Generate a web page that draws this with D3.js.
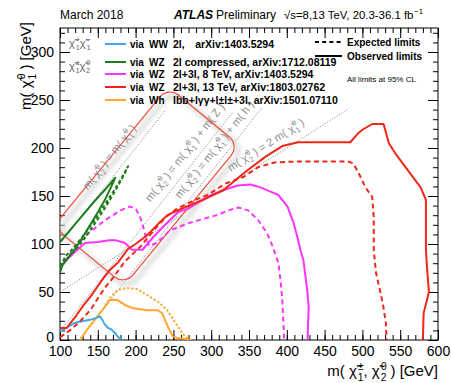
<!DOCTYPE html>
<html>
<head>
<meta charset="utf-8">
<script src="https://cdn.jsdelivr.net/npm/d3@7"></script>
<style>
	body { margin: 0; background: #fff; }
	svg { font-family: "Liberation Sans", Arial, Helvetica, sans-serif; }
</style>
</head>
<body>
<div id="chart"></div>
<script>

///////////////////////////////////////////////////////////////////////////
///////////////////////////////// Data ////////////////////////////////////
///////////////////////////////////////////////////////////////////////////

//Exclusion contours, [m(chi1+-,chi2), m(chi1)] in GeV
var wwObs = [[100,8.7],[106,11.5],[113,15],[120,18],[129,19.5],[140,21],[148,23],[153,24.5],[156,21],[159,16.5],
	[163,13],[168,11],[172,8],[176,4],[180.5,0]];
var whObs = [[126.5,0],[136,11],[146,21],[156,31],[166,41.7],[175,42],[186,36.5],[197,33],[215,31],[229,31],
	[235,28],[243,13.5],[249,4],[256,2],[268,1],[271,0]];
var whExp = [[160,36],[166,43.7],[173,50],[181,53],[189,54],[202,53],[215,47],[230,39.6],[242,31],[250,21],
	[259,10.4],[266,3],[274,0]];
var wzCompObs = [[100,102],[115,116],[130,130],[145,144],[160,157],[173,169],[168,160],[160,147],[150,133],
	[140,120],[130,107],[120,95],[110,85],[103,78],[100,70]];
var wzCompExp = [[100,77],[108,88],[118,96],[130,108],[145,124],[160,142],[175,160],[183,171],[190,181],
	[186,174],[175,158],[160,138],[145,120],[130,103],[118,92],[106,82],[100,74]];
var wz8Obs = [[100,73],[103,78],[112,86],[120,92],[133,101],[150,102],[165,104],[173,104],[186,101],[195,94],
	[209,94],[222,106],[239,120],[256,133],[270,137],[286,145],[300,151],[316,156],[335,161],[352,162],[365,159],
	[380,154],[389,151],[401,139],[409,122],[414,107],[418,94],[422,83],[427,52],[429,34],[428,15],[427.5,0]];
var wz8Exp = [[100,74],[110,86],[120,97],[137,111],[160,125],[180,135],[192,139],[200,137],[206,128],[210,118],
	[214,106],[218,98],[225,100],[235,106],[245,114],[271,122],[307,130],[323,135],[336,138],[349,135],[362,125],
	[374,111],[381,98],[389,80],[392,60],[394,42],[396,10],[396.5,0]];
var wz13Obs = [[100,12.5],[109,12.5],[115,19],[122,26],[131,36],[140,45],[150,56],[157,64],[166,73],[177,81],
	[190,95],[200,100],[210,106],[219,112],[230,121],[242,130],[263,137.5],[289,146],[316,156],[345,175],[372,191],
	[394,202],[415,206],[484,206],[494,215],[500,219],[513,225],[528,225],[535,205],[543,195],[557,180],[577,159],
	[584,146],[584,94],[586,70],[588,50],[581,28],[580,0]];
var wz13Exp = [[100,3],[104,5],[113,10],[126,19],[140,31],[153,47],[160,55],[170,64.6],[186,82],[206,97],
	[226,116],[240,128],[255,137],[279,146],[295,151],[319,163],[343,170],[362,180],[384,185],[415,186],[481,186],
	[488,184],[495,174],[504,159],[513,149],[515,128],[515,94],[518,70],[527,38],[531,18],[532,0]];

//Kinematic reference lines, y = slope*x + offset, drawn from xStart to xEnd
var refSlope  = [1, 1, 1, 0.5];
var refOffset = [0, -91.19, -125, 0];
var refStart  = [100, 100, 125, 100];
var refEnd    = [240, 328, 368, 480];
//Label centre of each reference line
var refLabelX = [169, 269, 308, 375];
var refLabelY = [188, 193, 196, 200];

//Compressed region box corners (left, top, right, bottom)
var boxCorners = [[100,120],[243,257],[328,205],[186,60]];

//Legend
var legendVia    = ["WW", "WZ", "WZ", "WZ", "Wh"];
var legendAnalysis = ["2l,\u2003arXiv:1403.5294", "2l compressed, arXiv:1712.08119", "2l+3l, 8 TeV, arXiv:1403.5294",
	"2l+3l, 13 TeV, arXiv:1803.02762", "lbb+lγγ+l±l±+3l, arXiv:1501.07110"];
var legendColors = ["#3ea8ec", "#1b7d1b", "#ff33ff", "#f0261b", "#ffa530"];

var xMajor = d3.range(100, 601, 50),
	xMinor = d3.range(100, 601, 10),
	yMajor = d3.range(0, 301, 50),
	yMinor = d3.range(0, 326, 10);

///////////////////////////////////////////////////////////////////////////
//////////////////// Set up and initiate svg containers ///////////////////
///////////////////////////////////////////////////////////////////////////

var width = 451,
	height = 383;
var plot = {left: 60, right: 438, top: 28, bottom: 340};

var svg = d3.select("#chart").append("svg")
	.attr("width", width)
	.attr("height", height);

var x = d3.scaleLinear().domain([100, 600]).range([plot.left, plot.right]);
var y = d3.scaleLinear().domain([0, 325]).range([plot.bottom, plot.top]);

var defs = svg.append("defs");
defs.append("clipPath").attr("id", "plotClip")
	.append("rect")
	.attr("x", plot.left).attr("y", plot.top)
	.attr("width", plot.right - plot.left).attr("height", plot.bottom - plot.top);
defs.append("filter").attr("id", "blur")
	.attr("x", "-20%").attr("y", "-20%").attr("width", "140%").attr("height", "140%")
	.append("feGaussianBlur").attr("stdDeviation", 2.5);

//Helper to write text with stacked super/subscripts
function rich(t, parts, fs) {
	var cur = 0, lastW = 0;
	parts.forEach(function(p) {
		var s = p[0], m = p[1] || "n";
		var target = m === "sup" ? -0.42*fs : (m === "sub" || m === "subx") ? 0.3*fs : 0;
		var ts = t.append("tspan").text(s);
		if (target - cur !== 0) ts.attr("dy", target - cur);
		if (m !== "n") ts.attr("font-size", 0.68*fs);
		if (m === "sup") ts.attr("dx", 0.08*fs);
		if (m === "subx") ts.attr("dx", -lastW);
		lastW = 0.68*fs*0.58*s.length;
		cur = target;
	});
}
var CHI = "\u03C7\u0303";

///////////////////////////////////////////////////////////////////////////
///////////////////////////////// Axes ////////////////////////////////////
///////////////////////////////////////////////////////////////////////////

function styleAxis(g) {
	g.select(".domain").remove();
	g.selectAll(".tick line").attr("stroke", "#000").attr("stroke-width", 1);
	g.selectAll(".tick text").attr("font-size", 14).attr("fill", "#000").attr("font-family", "Liberation Sans, Arial, sans-serif");
}

svg.append("g").attr("transform", "translate(0," + plot.bottom + ")")
	.call(d3.axisBottom(x).tickValues(xMinor).tickSize(-5).tickFormat("")).call(styleAxis);
svg.append("g").attr("transform", "translate(0," + plot.bottom + ")")
	.call(d3.axisBottom(x).tickValues(xMajor).tickSize(-10).tickPadding(6).tickFormat(d3.format("d"))).call(styleAxis);
svg.append("g").attr("transform", "translate(0," + plot.top + ")")
	.call(d3.axisTop(x).tickValues(xMinor).tickSize(-5).tickFormat("")).call(styleAxis);
svg.append("g").attr("transform", "translate(0," + plot.top + ")")
	.call(d3.axisTop(x).tickValues(xMajor).tickSize(-10).tickFormat("")).call(styleAxis);

svg.append("g").attr("transform", "translate(" + plot.left + ",0)")
	.call(d3.axisLeft(y).tickValues(yMinor).tickSize(-5).tickFormat("")).call(styleAxis);
var yAxis = svg.append("g").attr("transform", "translate(" + plot.left + ",0)")
	.call(d3.axisLeft(y).tickValues(yMajor).tickSize(-10).tickPadding(6).tickFormat(d3.format("d"))).call(styleAxis);
//lift the zero label a touch so it clears the first x label
yAxis.selectAll(".tick text").filter(function(d) { return d === 0; }).attr("dy", "0.1em");
svg.append("g").attr("transform", "translate(" + plot.right + ",0)")
	.call(d3.axisRight(y).tickValues(yMinor).tickSize(-5).tickFormat("")).call(styleAxis);
svg.append("g").attr("transform", "translate(" + plot.right + ",0)")
	.call(d3.axisRight(y).tickValues(yMajor).tickSize(-10).tickFormat("")).call(styleAxis);

//Frame
svg.append("rect")
	.attr("x", plot.left).attr("y", plot.top)
	.attr("width", plot.right - plot.left).attr("height", plot.bottom - plot.top)
	.style("fill", "none").style("stroke", "#000").style("stroke-width", 1);

//Axis titles
var xTitle = svg.append("text")
	.attr("x", plot.right).attr("y", 376)
	.attr("text-anchor", "end").attr("font-size", 15);
rich(xTitle, [["m( "], [CHI], ["±", "sup"], ["1", "subx"], [", "], [CHI], ["0", "sup"], ["2", "subx"], [" ) [GeV]"]], 15);

var yTitle = svg.append("text")
	.attr("transform", "translate(31,66) rotate(-90)")
	.attr("text-anchor", "middle").attr("font-size", 15);
rich(yTitle, [["m( "], [CHI], ["0", "sup"], ["1", "subx"], [" ) [GeV]"]], 15);

///////////////////////////////////////////////////////////////////////////
/////////////////////////// Reference lines ///////////////////////////////
///////////////////////////////////////////////////////////////////////////

var plotArea = svg.append("g").attr("clip-path", "url(#plotClip)");

var kx = x(200) - x(100),
	ky = y(0) - y(100);

refSlope.forEach(function(s, i) {
	plotArea.append("line")
		.attr("x1", x(refStart[i])).attr("y1", y(s*refStart[i] + refOffset[i]))
		.attr("x2", x(refEnd[i])).attr("y2", y(s*refEnd[i] + refOffset[i]))
		.style("stroke", "#8a8a8a").style("stroke-width", 1).style("stroke-dasharray", "1.2,1.6");
});

var refParts = [
	[["m( "], [CHI], ["0", "sup"], ["2", "subx"], [" ) = m( "], [CHI], ["0", "sup"], ["1", "subx"], [" )"]],
	[["m( "], [CHI], ["0", "sup"], ["2", "subx"], [" ) = m( "], [CHI], ["0", "sup"], ["1", "subx"], [" ) + m( Z )"]],
	[["m( "], [CHI], ["0", "sup"], ["2", "subx"], [" ) = m( "], [CHI], ["0", "sup"], ["1", "subx"], [" ) + m( h )"]],
	[["m( "], [CHI], ["0", "sup"], ["2", "subx"], [" ) = 2 m( "], [CHI], ["0", "sup"], ["1", "subx"], [" )"]]
];

///////////////////////////////////////////////////////////////////////////
///////////////////////// Compressed region box ///////////////////////////
///////////////////////////////////////////////////////////////////////////

var bp = boxCorners.map(function(d) { return [x(d[0]), y(d[1])]; });
var bcx = d3.mean(bp, function(d) { return d[0]; }),
	bcy = d3.mean(bp, function(d) { return d[1]; });
var dist = function(a, b) { return Math.sqrt((a[0]-b[0])*(a[0]-b[0]) + (a[1]-b[1])*(a[1]-b[1])); };
var boxLen = (dist(bp[0], bp[1]) + dist(bp[3], bp[2]))/2 + 8,
	boxWid = (dist(bp[1], bp[2]) + dist(bp[0], bp[3]))/2 + 8,
	boxAng = Math.atan2(bp[1][1] - bp[0][1], bp[1][0] - bp[0][0]) * 180/Math.PI;

//soft shadow, offset down-right on screen
plotArea.append("g")
	.attr("transform", "translate(" + (bcx + 4) + "," + (bcy + 4) + ") rotate(" + boxAng + ")")
	.append("rect")
	.attr("x", -boxLen/2).attr("y", -boxWid/2)
	.attr("width", boxLen).attr("height", boxWid)
	.attr("rx", 13).attr("ry", 13)
	.style("fill", "none").style("stroke", "#d6d6d6").style("stroke-width", 4)
	.attr("filter", "url(#blur)");
plotArea.append("g")
	.attr("transform", "translate(" + bcx + "," + bcy + ") rotate(" + boxAng + ")")
	.append("rect")
	.attr("x", -boxLen/2).attr("y", -boxWid/2)
	.attr("width", boxLen).attr("height", boxWid)
	.attr("rx", 13).attr("ry", 13)
	.style("fill", "none").style("stroke", "#f2422f").style("stroke-width", 1.1);

//Reference labels
refSlope.forEach(function(s, i) {
	var ang = -Math.atan(s*ky/kx) * 180/Math.PI;
	var t = svg.append("text")
		.attr("transform", "translate(" + x(refLabelX[i]) + "," + y(refLabelY[i]) + ") rotate(" + ang + ")")
		.attr("text-anchor", "middle").attr("font-size", 11)
		.style("fill", "#8c8c8c");
	rich(t, refParts[i], 11);
});

///////////////////////////////////////////////////////////////////////////
/////////////////////////////// Contours //////////////////////////////////
///////////////////////////////////////////////////////////////////////////

var line = d3.line()
	.x(function(d) { return x(d[0]); })
	.y(function(d) { return y(d[1]); });

var series = [
	{data: wz8Exp, color: legendColors[2], dash: "5,3.5"},
	{data: wz8Obs, color: legendColors[2], dash: null},
	{data: whExp, color: legendColors[4], dash: "2.2,2"},
	{data: whObs, color: legendColors[4], dash: null},
	{data: wwObs, color: legendColors[0], dash: null},
	{data: wzCompExp, color: legendColors[1], dash: "3.5,2.5"},
	{data: wzCompObs, color: legendColors[1], dash: null},
	{data: wz13Exp, color: legendColors[3], dash: "5,3.5"},
	{data: wz13Obs, color: legendColors[3], dash: null}
];

plotArea.selectAll(".contour")
	.data(series)
	.enter().append("path")
	.attr("class", "contour")
	.attr("d", function(d) { return line(d.data); })
	.style("fill", "none")
	.style("stroke", function(d) { return d.color; })
	.style("stroke-width", 2)
	.style("stroke-linejoin", "round")
	.style("stroke-dasharray", function(d) { return d.dash; });

///////////////////////////////////////////////////////////////////////////
//////////////////////////////// Legend ///////////////////////////////////
///////////////////////////////////////////////////////////////////////////

var rowY = [44, 62, 74, 87, 100];
var legend = svg.append("g").style("fill", "#000");

legendVia.forEach(function(v, i) {
	legend.append("line")
		.attr("x1", 105).attr("x2", 126)
		.attr("y1", rowY[i]).attr("y2", rowY[i])
		.style("stroke", legendColors[i]).style("stroke-width", 2);
	legend.append("text")
		.attr("x", 130).attr("y", rowY[i] + 3.6)
		.attr("font-size", 10).attr("font-weight", "bold")
		.text("via");
	legend.append("text")
		.attr("x", 149).attr("y", rowY[i] + 3.6)
		.attr("font-size", 10).attr("font-weight", "bold")
		.text(v);
	legend.append("text")
		.attr("x", 173).attr("y", rowY[i] + 3.6)
		.attr("font-size", 10.5).attr("font-weight", "bold")
		.text(legendAnalysis[i]);
});

var pairWW = legend.append("text").attr("x", 69).attr("y", 47).attr("font-size", 11).style("fill", "#666");
rich(pairWW, [[CHI], ["+", "sup"], ["1", "subx"], [CHI], ["\u2212", "sup"], ["1", "subx"]], 11);
var pairWZ = legend.append("text").attr("x", 69).attr("y", 70).attr("font-size", 11).style("fill", "#666");
rich(pairWZ, [[CHI], ["±", "sup"], ["1", "subx"], [CHI], ["0", "sup"], ["2", "subx"]], 11);

//Expected / observed
legend.append("line")
	.attr("x1", 315).attr("x2", 342).attr("y1", 42).attr("y2", 42)
	.style("stroke", "#000").style("stroke-width", 2).style("stroke-dasharray", "4,3.2");
legend.append("text")
	.attr("x", 347).attr("y", 46).attr("font-size", 10).attr("font-weight", "bold")
	.text("Expected limits");
legend.append("line")
	.attr("x1", 315).attr("x2", 342).attr("y1", 56).attr("y2", 56)
	.style("stroke", "#000").style("stroke-width", 2);
legend.append("text")
	.attr("x", 347).attr("y", 60).attr("font-size", 10).attr("font-weight", "bold")
	.text("Observed limits");
legend.append("text")
	.attr("x", 347).attr("y", 82).attr("font-size", 8).style("fill", "#000")
	.text("All limits at 95% CL");

///////////////////////////////////////////////////////////////////////////
//////////////////////////////// Header ///////////////////////////////////
///////////////////////////////////////////////////////////////////////////

svg.append("text").attr("x", 60).attr("y", 19).attr("font-size", 12).text("March 2018");
svg.append("text").attr("x", 174).attr("y", 19).attr("font-size", 12)
	.attr("font-weight", "bold").attr("font-style", "italic").text("ATLAS");
svg.append("text").attr("x", 216).attr("y", 19).attr("font-size", 12).text("Preliminary");
var energy = svg.append("text").attr("x", 284).attr("y", 19).attr("font-size", 11.4);
rich(energy, [["\u221As=8,13 TeV, 20.3-36.1 fb"], ["\u22121", "sup"]], 11.4);

</script>
</body>
</html>
